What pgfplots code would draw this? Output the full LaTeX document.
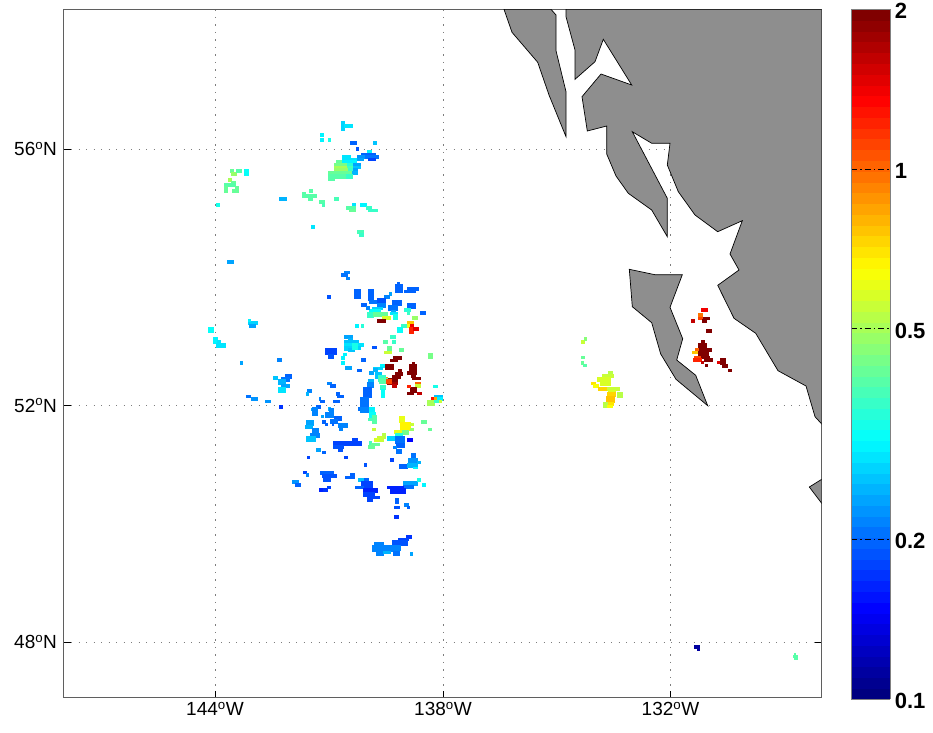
\documentclass[border=0pt]{standalone}
\usepackage{pgfplots}
\usepackage{pgfplotstable}
\usepackage{fontspec}
\setmainfont{Liberation Sans}
\pgfplotsset{compat=1.18}
\definecolor{land}{RGB}{142,142,142}
\definecolor{axisgray}{RGB}{95,95,95}
\definecolor{griddot}{RGB}{125,125,125}
\pgfplotsset{colormap/jet, colormap={jet64}{samples of colormap=(64 of jet)}}
% map cells: x1 y1 x2 y2 (map position on the reference frame) and value v
\pgfplotstableread{
x1 y1 x2 y2 v
341 121 344.5 130 .27
344.5 124 352 127 .28
320 133 323 136 .3
320 138 323 141 .3
328 138.5 330 141 .33
350 141 356.5 144 .2
373 141 376.5 144 .26
356 147 358.5 150 .19
367.5 150 371 153 .3
361.5 153 375.5 155.5 .2
342.5 155.5 350 158 .28
357 155.5 365 158 .23
365 155.5 378.5 158 .21
342 158 357 160.5 .29
357 158 363 160.5 .24
368 158 375.5 160.5 .18
336 160.5 342 163 .42
342 160.5 356 163 .3
334.5 163 347 166 .44
347 163 353 166 .35
353 163 360 166 .24
334.5 166 347 168.5 .5
347 166 353 168.5 .38
353 166 360 168.5 .26
334.5 168.5 348 171 .47
348 168.5 353 171 .37
353 168.5 357 171 .24
328.5 171 352 174.5 .42
352 171 357 174.5 .25
328.5 174.5 346 178 .4
346 174.5 352 178 .36
328.5 178 334.5 180.5 .4
230 169.5 233.5 172 .42
231 172 236.5 174.7 .47
236.5 169.5 241 172 .4
244.5 169.5 248 175 .31
228.5 178 231.5 181 .5
231.5 180.7 235 183.3 .42
224 183.3 235 186 .4
224 186 226.7 191.7 .41
235 186 237.7 189 .41
231.7 189 237.7 191.7 .41
215.7 202.7 219 205.7 .33
279.3 197 285.7 200 .25
301.7 192 305 197.3 .39
305 194 315.7 197.3 .39
307.7 197.3 312.3 200 .39
309 189.3 312.3 192 .4
319 200 323.7 202.7 .4
321.7 202.7 323.7 205.7 .38
334.3 197.3 337.7 200 .38
351.7 202.7 355 206 .28
345.7 206 355 208.7 .39
349 208.7 355 211 .41
360 202.7 366 205.7 .3
366 205.7 371 208.7 .36
368.3 208.7 376.7 211 .36
311 224.7 314 227.7 .29
356.7 230.3 363.3 233.3 .38
359.3 233.3 363.3 235.7 .37
227 260 233.3 262.7 .24
344.3 270.7 349 273.3 .22
341 273.3 346.7 276 .21
345.7 276.7 349 279.3 .22
354 289.3 360 297.7 .2
367.7 289.3 372.7 300 .2
369.3 300 376 303.3 .21
326.7 295 330 297.7 .19
397.3 281.7 399.3 284.3 .2
395 284.3 402.3 291.7 .2
407.3 287.3 418 290 .2
404 290 415 292.3 .2
388.7 292.3 391.3 295 .24
384 295 388.7 297.7 .22
376.7 297.7 384.7 303.3 .19
376.7 303.3 384.7 306.7 .22
371.7 306.7 381.7 309.3 .27
369.3 309.3 380 312 .31
366.7 312 373.3 316.7 .37
373.3 312 386.7 316 .42
382 316 390 319 .58
376.7 319 385.3 321.7 2
361.3 303.3 366 306 .2
366 306 369.3 308.7 .22
391.7 300 401 305.3 .2
388.3 305.3 396.7 310 .21
390.7 310 395 312 .24
390 312 397.3 314 .28
392.7 314 396.7 318.7 .33
406.7 303.3 415.3 308.3 .2
404 308.3 410 311 .34
406.7 311 409.3 314 .37
420 311 425 314 .2
412 316 416.7 319.3 .47
406.7 321.3 413.3 324 .75
406 324 410 327.3 .6
410 324 413.3 327.3 1.4
401.3 324 406 327.3 .36
396.7 327.3 402 332 .32
409.3 327.3 413.3 332.7 1.2
413.3 327.3 418 330 1.5
355 324.3 358.3 327.3 .3
361.3 324.3 363.3 327.3 .34
390 335 395 337.7 .37
383.3 340 386.7 342.7 .4
391.7 340 394.7 342.7 .37
344.3 335 351.7 337.7 .24
348.3 337.7 351.7 340 .25
344.3 340 358 342.7 .26
344.3 342.7 363 346 .28
344.3 346 352 350 .27
357 346 360 349 .27
348.3 348 354 351 .26
352 342.7 357 349 .33
325 348 336 354.3 .18
328.3 354.3 333.3 358.3 .19
386.7 345.7 391.3 350.7 .42
384 350.7 391.3 353.3 .55
399.3 348 403.3 350.7 .42
372.3 345.7 375.7 348 .19
343.3 353.3 345.7 355.3 .3
341 356 344 358.7 .3
341 361 344.3 364 .3
345.3 365.7 350.7 368.7 .24
361.3 358.3 364.7 361 .2
356.7 369 361.3 371.3 .2
277.3 358.3 281 361 .22
240 360.7 241.7 364 .24
392.7 356 401.3 358.7 2
390 358.7 396.7 361 2
380 364 385 366.7 .3
373.3 366.7 381.7 369.3 .27
385 364 393.3 369 2
411.7 361.7 414 365 2
409.3 364.3 416 370 2
406.7 370.7 416 374 2
411.3 374 415.3 376.7 2
412 376.7 420 379.3 2
398 369 401.3 371.7 2
395 371.7 402 375 2
391.7 375 400 378.3 2
388.3 378.3 397.3 381.7 2
386.7 381.7 396.7 384.3 1.8
391.7 384.3 395.7 386.7 1.6
384 376.7 386.7 379.3 .9
374.7 371.7 381 378 .26
378 375 385 381 .36
379 378 387 383 .4
386 379.3 390.7 383.3 1.1
368.3 379.3 373.3 382 .25
366.7 382 373.3 386.7 .22
363.3 386.7 370.7 396.7 .2
360 396.7 368.3 406.7 .21
358.3 406.7 366.7 410 .21
369 407.3 373.3 410 .28
369.3 370.7 372.7 374 .24
372.7 368.3 376.7 370.7 .25
380 385 385.3 389 .36
380.7 389 384 396.7 .32
415 381.7 420 384.3 1
415 384.3 420 387.3 .55
410 386.7 416 391.7 2
407.3 385 410 387.3 1.2
406.7 391.7 413.3 394.3 2
416.7 391.7 421.3 394.3 1.6
432.7 384.7 437.3 387 .33
428 353.3 432.3 358.3 .43
434.3 394.7 441.7 397.3 .26
430.7 397.3 434.3 400 1.3
434.3 397.3 437.3 400 .85
437.3 397.3 441.7 400 .3
426.7 400 434 405 .5
434 400 439 402 .36
439 400 441.5 402 .55
208 327.3 213.3 332 .31
213.3 337.3 217.3 342.7 .3
217.3 340 220 343.3 .29
216 343.3 225.3 347.3 .29
248.3 321 257.3 324 .27
248.3 319.3 250 321 .3
249.3 324 255 327 .24
273 376.3 277.3 379 .26
285.3 374.3 290.7 378.3 .2
281 377 289.3 381 .21
277.7 379.3 285 384.3 .25
281 384.3 289 387 .24
277.7 387 285 392 .28
246 394.7 250 397.3 .21
250.7 397 257.3 399.7 .23
265 399.7 270 402.3 .23
279 405 282.3 407.7 .17
307.3 389.3 311 392 .22
306 392 308 394.7 .25
327 381.7 331 384.3 .22
330 384.3 334.7 387 .2
336 392 339 394.7 .2
336.7 394.7 342.7 397.3 .2
318.7 397 320 399.7 .22
320.3 399.7 323.7 402.3 .2
333.3 399.7 339 402.3 .2
316 405 320 407.7 .2
311 407.7 316.7 410 .24
328 407.3 330 410 .25
360 406.7 369 412.3 .22
369 407.3 374 411.7 .3
369.3 411.7 374.7 416.7 .31
371.7 415 376 423.3 .39
368.3 417.7 371.7 420 .38
371.7 427.7 375 430 .55
399.3 415.7 404 422.3 .6
400 422.3 410 430 .68
410 423.3 413.3 425.3 .55
410 428.3 413.3 430 .47
394.3 430 401.7 432.7 .6
401.7 430 408.3 434.3 .43
395 432.7 401.7 435.7 .34
386.7 435.7 395 440 .27
395 435.7 404 443.3 .21
396 443.3 404 447.3 .2
393.3 445.7 396 448.3 .22
396 449 400.7 453.3 .21
407.3 437.7 412.3 440.7 .15
421.3 420 426 422.7 .42
428 427.7 430.7 430 .41
382 432.7 385.3 437.7 .52
376.7 435.7 383.3 440.7 .56
374 437.7 378.3 440.7 .58
369 440.7 371.3 445 .38
371 442.7 379 445 .41
368.3 445 374 448.3 .42
311.7 407.3 317.3 415 .22
320.7 415 322.7 417.3 .24
329.3 408.3 332.7 411.7 .22
325 411.7 333.3 417.3 .22
321.7 420 325 423.3 .2
325 422.7 326.7 425 .2
334 415.7 340.7 420 .2
330 419.3 337.3 423.3 .21
331.7 423.3 333.3 425 .2
337.7 423.3 346.7 426.7 .22
339 426.7 342.3 430 .22
306 420 312.7 425 .24
305 425 311.7 428.3 .25
311.7 428.3 318.3 433.3 .22
310 433.3 319 436.7 .22
306 436 315 440.7 .26
333.3 440.7 360.7 445 .18
351.7 437.7 356.7 440.7 .18
333.3 445 342.7 448.3 .19
337.7 448.3 342 450.7 .19
315.7 448.3 320 450.7 .24
321.7 450.7 325 453.3 .2
307.3 455.7 309.3 458 .18
344.3 455.7 346.7 458 .18
364.3 463.3 366 465.7 .19
390 458.3 392.7 460.7 .18
410.7 453.3 415 458.3 .21
407.7 458.3 416.7 463.3 .23
416.7 461 419.7 463.3 .25
399.3 464 407.3 468.3 .2
407.3 463.3 416.7 466.7 .25
413.3 466.7 416.7 468.3 .3
302.7 471 306 473.3 .18
306 473.3 307.7 476 .22
320 471 333.3 474 .2
321.7 474 336 477.3 .19
323.3 477.3 330 480.7 .19
350 473.3 353.7 476 .2
345.3 476 353.7 478.3 .2
319 488 321.7 490.7 .16
323.3 488 326.7 490.7 .17
326.7 486 330 488.3 .18
292.3 480.3 298.3 483.3 .23
295 483.3 300 486 .2
358.3 478.3 363.3 480.7 .26
364.3 478.3 367.7 480.7 .2
361 480.7 372 488 .18
355 485.7 363.3 488.3 .2
363.3 488 377.3 492 .16
363.3 492 374 496 .18
366.7 496 379 498.3 .18
366.7 498.3 372.3 501 .18
402.7 480.7 416.7 485 .24
403.3 485 413.3 487.7 .21
386.7 486 403.3 488.3 .16
390 488.3 405 493.3 .16
416.7 478.3 420 480.7 .33
421.7 483.3 425 486 .3
395 498.3 398.3 502.7 .2
394.3 505.7 399.3 508 .19
404.3 503.3 408.3 505.7 .22
406.7 505.7 408.7 507.7 .2
394.3 515.3 398 517.7 .17
406 535 410.7 537.7 .17
398.3 537.7 408.3 540 .18
391.7 540 407.3 545 .19
374 542.3 383.3 545 .22
371.7 545 391.7 550.7 .22
391.7 545 400 550 .22
376 550.7 383.3 555 .22
383.3 550.7 390 552.7 .25
393.3 550.7 399.3 555 .21
410 552.3 412 555 .24
580.7 340 584 342.7 .55
584 337.3 586 340 .45
580.7 355.7 584 358.3 .42
580.7 361 582.7 363.7 .42
582.7 363.7 586 366 .4
608.3 371 611.7 373.7 .52
601.7 373.7 613.3 376.7 .55
596.7 376.7 610 380.7 .57
600 380.7 610 385 .58
590.7 381.7 595 384.3 .7
593.3 384.3 598.3 387 .65
598.3 387 608.3 389.7 .72
606.7 387 619 389.7 .55
608.3 389.7 615 392.3 .58
617.3 392.3 622 396.7 .53
606.7 392.3 615 396 .72
606 396 614 401.7 .78
606.7 401.7 613.3 405 .7
603.3 401.7 606.7 406.7 .52
606.7 405 611.7 407.3 .65
701 308 707 311 1.4
698 313.3 701.7 316.7 .95
701.7 316.7 709 319 2
698 316.7 701.7 319.3 1.1
702.3 319 706 321.7 2
691 319 694.3 321.7 1.6
705.7 329.3 710.7 332.3 2
701 340 704.3 342.7 2
697.7 342.7 705.7 347.7 2
697.7 347.7 711 351 2
695 347.7 698.3 351 1
691.7 351 698.3 353.3 .75
698.3 351 708.3 355.7 2
694.3 355.7 701 358.3 1.1
701 355.7 709 358.3 2
693.3 358.3 700.7 361 1.2
704.3 358.3 712.3 361 2
701 361 702.7 363.3 1.6
705.3 363.7 707 366 2
716.7 361 720 363.3 1.5
720 358.3 725 364 2
721.7 364 726.7 366.7 2
727.7 369 731 371.3 2
694 645.3 699.3 647.7 .115
696.7 647.7 699.3 650 .115
794 655 797.3 659.3 .4
792.7 655 794 656.7 .4
793.7 652.7 795 655 .4
}\cells
\begin{document}
\begin{tikzpicture}[x=1pt,y=1pt]
\useasboundingbox (0,0) rectangle (933,732);
\begin{axis}[
  at={(63.5pt,34.3pt)}, anchor=south west,
  scale only axis, width=758.2pt, height=688.4pt,
  xmin=63.5, xmax=821.7, ymin=9.3, ymax=697.7, y dir=reverse,
  xtick={215,443,670.5},
  xticklabels={144\textsuperscript{o}W,138\textsuperscript{o}W,132\textsuperscript{o}W},
  ytick={149,405.5,642},
  yticklabels={56\textsuperscript{o}N,52\textsuperscript{o}N,48\textsuperscript{o}N},
  tick label style={font=\fontsize{19}{19}\selectfont, black},
  xticklabel style={yshift=-1pt},
  yticklabel style={xshift=-3pt},
  tick align=inside, xtick pos=bottom, ytick pos=both, yticklabel pos=left,
  major tick length=7pt, major tick style={black, line width=0.7pt},
  axis line style={axisgray, line width=1.3pt},
  grid=major,
  major grid style={griddot, line width=0.8pt, dash pattern=on 1.3pt off 6.2pt},
  colormap name=jet64, colormap access=piecewise constant,
  point meta min=-1, point meta max=0.30103,
  colorbar sampled,
  colorbar style={
    at={(1.03864,1)}, anchor=north west,
    width=39.3pt, height=689.7pt, samples=65,
    ytick={-1,-0.69897,-0.30103,0,0.30103},
    yticklabels={0.1,0.2,0.5,1,2},
    ytick pos=right, yticklabel pos=right,
    tick label style={font=\bfseries\fontsize{22}{22}\selectfont, black},
    yticklabel style={xshift=1pt, yshift=-2pt},
    major tick length=0pt,
    axis line style={gray, line width=0.6pt},
    grid=major,
    major grid style={black, line width=0.7pt, dash pattern=on 6pt off 3pt on 1.5pt off 3pt},
    axis on top,
  },
]
\addplot[fill=land, draw=black, line width=0.7pt] coordinates {(504,9.3) (512,32.3) (537.7,62.3) (549,95) (566,136.7) (566,91.7) (556,50.7) (556,15) (551,9.3)} -- cycle;
\addplot[fill=land, draw=black, line width=0.7pt] coordinates {(566,9.3) (566,16.7) (575,50) (575,79.3) (595,61.7) (603.3,39.3) (631.7,85) (601,74) (582,96.7) (587.3,131) (606.7,126) (606.7,154) (616,176) (628.3,193.3) (651.7,210) (667.3,236.7) (667.3,198.3) (632.3,131.7) (651.7,143.3) (670,143.3) (667.3,165) (678.3,191.7) (695,215) (717.7,231.7) (742.3,220.7) (730,254) (739,270) (717.7,285.3) (734,318.3) (755.7,333.3) (778,370.7) (806,386) (815,416.7) (821.7,424) (821.7,9.3)} -- cycle;
\addplot[fill=land, draw=black, line width=0.7pt] coordinates {(629.3,269.3) (655,274.7) (682.3,274.7) (670,307.3) (682.7,338.7) (676.7,360) (695.7,375.3) (707.7,405.7) (676,379.3) (660.7,354) (651.7,322.7) (632.3,306.7)} -- cycle;
\addplot[fill=land, draw=black, line width=0.7pt] coordinates {(821.7,479.3) (809.3,487) (821.7,503.3)} -- cycle;
\addplot[scatter, only marks, mark=square*, mark size=0.5pt, point meta=explicit,
  scatter/use mapped color={draw=mapped color, fill=mapped color},
  mark options={line width=0.05pt},
  visualization depends on={\thisrow{x2}-\thisrow{x1} \as \cw},
  visualization depends on={\thisrow{y2}-\thisrow{y1} \as \ch},
  scatter/@pre marker code/.append style={/tikz/xscale=\cw,/tikz/yscale=\ch},
] table[x expr={(\thisrow{x1}+\thisrow{x2})/2}, y expr={(\thisrow{y1}+\thisrow{y2})/2}, meta expr={log10(\thisrow{v})}] {\cells};
\end{axis}
\end{tikzpicture}
\end{document}
